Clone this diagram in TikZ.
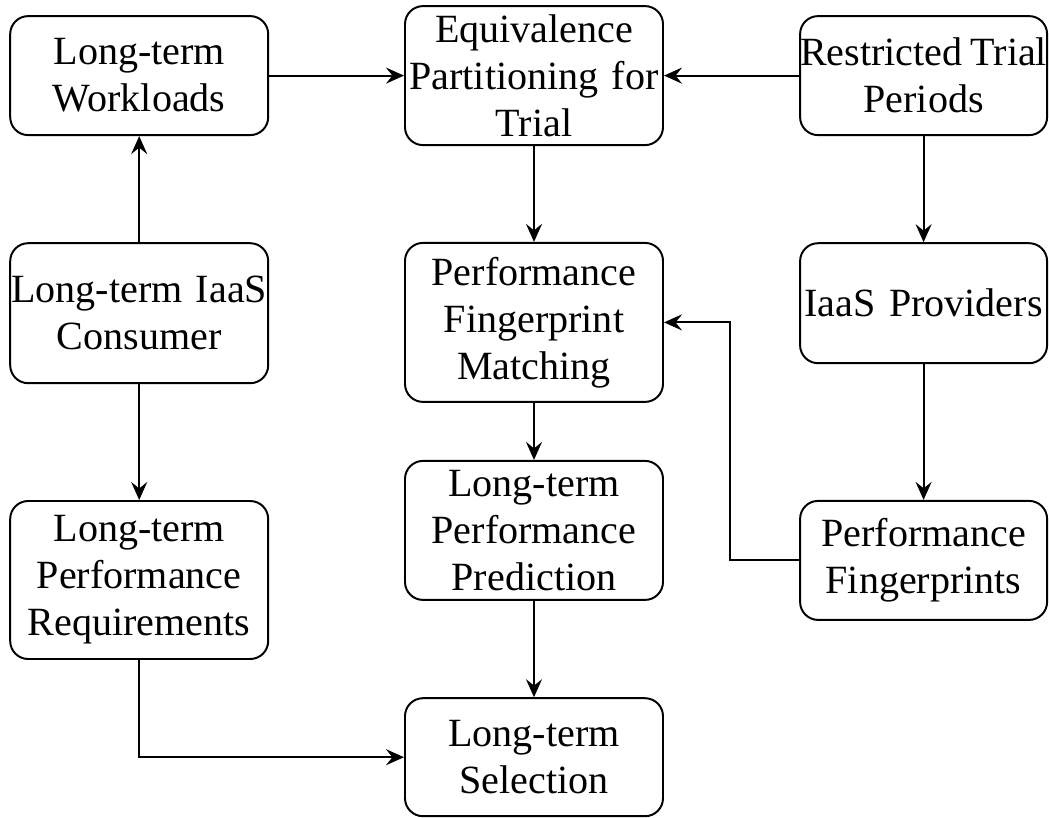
\documentclass[tikz,border=0pt]{standalone}
\usepackage{fontspec}
\setmainfont{Liberation Serif}
\usetikzlibrary{arrows.meta}
\begin{document}
\begin{tikzpicture}[>={Stealth[length=4.5mm,width=4mm,inset=1.6mm]},
  block/.style={draw, rounded corners=0.45cm, line width=1.4pt, align=center, text width=6.45cm, inner xsep=0pt, inner ysep=0pt, font=\fontsize{28.5}{33.4}\selectfont},
  every path/.style={line width=1.4pt}]
\useasboundingbox (0,0) rectangle (26.225,-20.425);
\node[block, minimum height=2.975cm] (wl) at (3.48,-1.89)
{Long-term\\Workloads};
\node[block, minimum height=3.475cm] (eq) at (13.35,-1.89)
{Equivalence\\Partitioning for\\Trial};
\node[block, minimum height=2.975cm, text width=6.175cm] (rt) at (23.09,-1.89)
{\makebox[6.175cm]{Restricted\hspace{0.2em}Trial}\\Periods};
\node[block, minimum height=3.5cm] (cons) at (3.48,-7.83)
{Long-term IaaS\\Consumer};
\node[block, minimum height=3.975cm] (match) at (13.35,-8.06)
{Performance\\Fingerprint\\Matching};
\node[block, minimum height=3cm, text width=6.175cm] (prov) at (23.09,-7.58)
{IaaS Providers};
\node[block, minimum height=3.95cm] (req) at (3.48,-14.5)
{Long-term\\Performance\\Requirements};
\node[block, minimum height=3.475cm] (pred) at (13.35,-13.26)
{Long-term\\Performance\\Prediction};
\node[block, minimum height=2.975cm, text width=6.175cm] (fp) at (23.09,-14.01)
{Performance\\Fingerprints};
\node[block, minimum height=2.95cm] (sel) at (13.35,-18.93)
{Long-term\\Selection};
\draw[->] (wl) -- (eq);
\draw[->] (rt) -- (eq);
\draw[->] (cons) -- (wl);
\draw[->] (eq) -- (match);
\draw[->] (rt) -- (prov);
\draw[->] (cons) -- (req);
\draw[->] (match) -- (pred);
\draw[->] (prov) -- (fp);
\draw[->] (pred) -- (sel);
\draw[->] (req.south) |- (sel.west);
\draw[->] (fp.west) -- ++(-1.73,0) |- (match.east);
\end{tikzpicture}
\end{document}
